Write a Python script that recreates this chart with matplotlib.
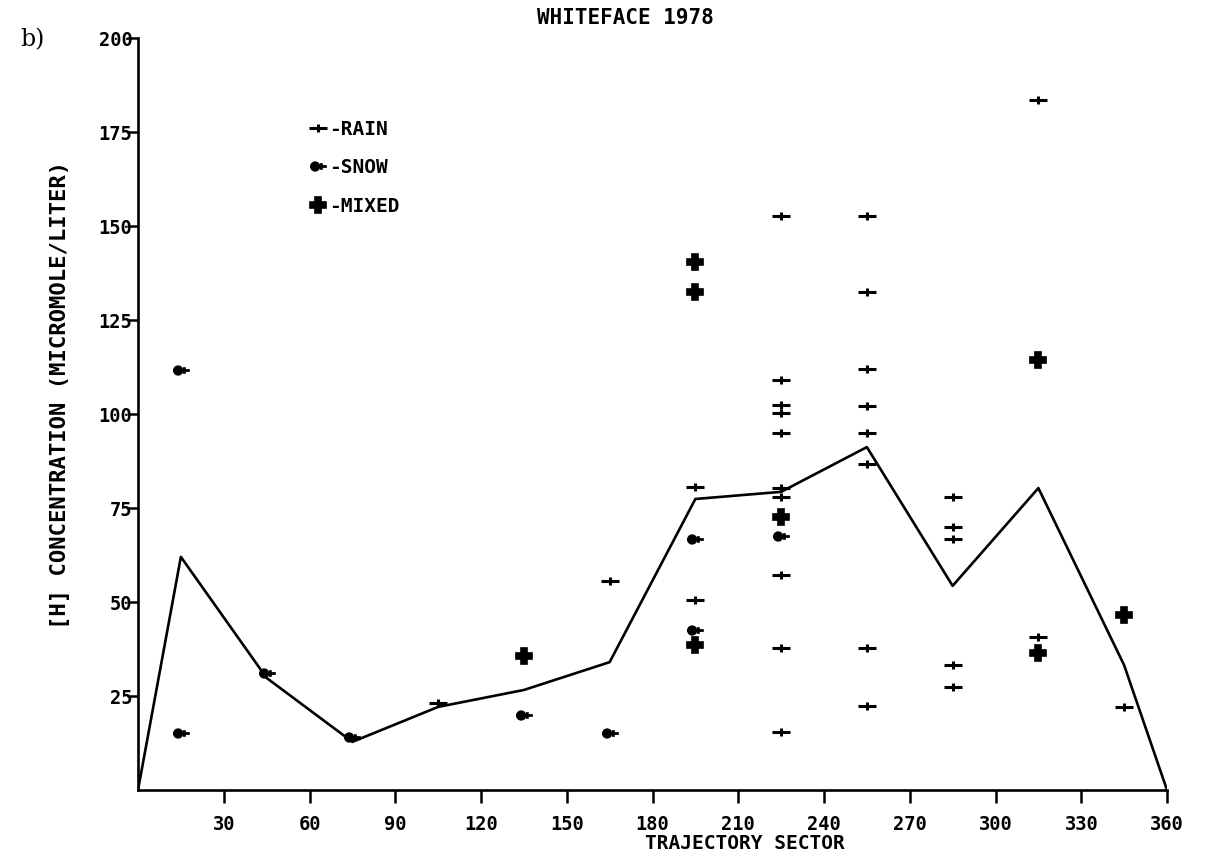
import matplotlib
matplotlib.use("Agg")
import matplotlib.pyplot as plt
from matplotlib.path import Path
from matplotlib.lines import Line2D

# ---- data ----
line_x = [0, 15, 45, 75, 105, 135, 165, 195, 225, 255, 285, 315, 345, 360]
line_y = [0, 62.0, 29.8, 12.8, 22.1, 26.6, 34.0, 77.4, 79.3, 91.2, 54.3, 80.3, 33.2, 0]

rain_x = [105, 165, 195, 195,
          225, 225, 225, 225, 225, 225, 225, 225, 225, 225,
          255, 255, 255, 255, 255, 255, 255, 255,
          285, 285, 285, 285, 285,
          315, 315, 345]
rain_y = [23.1, 55.6, 80.6, 50.5,
          152.7, 109.0, 102.4, 100.3, 95.0, 80.3, 77.9, 57.2, 37.8, 15.4,
          152.7, 132.4, 112.0, 102.1, 95.0, 86.7, 37.8, 22.3,
          77.9, 69.9, 66.8, 33.2, 27.4,
          183.5, 40.7, 22.1]

snow_x = [15, 15, 45, 75, 135, 165, 195, 195, 225]
snow_y = [111.7, 15.2, 31.1, 14.1, 19.9, 15.2, 66.8, 42.6, 67.6]

mixed_x = [135, 195, 195, 195, 225, 315, 315, 345]
mixed_y = [35.6, 140.4, 132.4, 38.6, 72.6, 114.4, 36.4, 46.5]

x_ticks = [30, 60, 90, 120, 150, 180, 210, 240, 270, 300, 330, 360]
y_ticks = [25, 50, 75, 100, 125, 150, 175, 200]

title = "WHITEFACE 1978"
x_label = "TRAJECTORY SECTOR"
y_label = "[H] CONCENTRATION (MICROMOLE/LITER)"
legend_labels = ["-RAIN", "-SNOW", "-MIXED"]

# ---- marker shapes ----
rain_marker = Path([(-1, 0), (1, 0), (0, -0.45), (0, 0.45)],
                   [Path.MOVETO, Path.LINETO, Path.MOVETO, Path.LINETO])
circ = Path.circle(center=(-0.4, 0), radius=0.45)
bar = Path([(-1, 0), (1, 0), (0.35, -0.4), (0.35, 0.4)],
           [Path.MOVETO, Path.LINETO, Path.MOVETO, Path.LINETO])
snow_marker = Path.make_compound_path(circ, bar)

font = "DejaVu Sans Mono"
plt.rcParams["font.family"] = [font, "DejaVu Sans"]

fig = plt.figure(figsize=(12.11, 8.57), dpi=100)
ax = fig.add_axes([138 / 1211, 1 - 790 / 857, (1167 - 138) / 1211, (790 - 38) / 857])

ax.plot(line_x, line_y, color="black", lw=1.9, zorder=2)
ax.plot(rain_x, rain_y, ls="none", marker=rain_marker, ms=13, mew=2.2,
        color="black", zorder=3)
ax.plot(snow_x, snow_y, ls="none", marker=snow_marker, ms=12, mew=2.0,
        mfc="black", mec="black", zorder=3)
ax.plot(mixed_x, mixed_y, ls="none", marker="P", ms=12, mew=1.2,
        mfc="black", mec="black", zorder=3)

ax.set_xlim(0, 360)
ax.set_ylim(0, 200)
ax.set_xticks(x_ticks)
ax.set_yticks(y_ticks)
ax.set_xticklabels([str(v) for v in x_ticks], fontsize=13.5, fontweight="bold")
ax.set_yticklabels([str(v) for v in y_ticks], fontsize=13.5, fontweight="bold")
ax.tick_params(axis="x", direction="out", length=9, width=1.8, pad=9)
ax.tick_params(axis="y", direction="out", length=8, width=1.8, pad=-4)
for s in ["top", "right"]:
    ax.spines[s].set_visible(False)
for s in ["left", "bottom"]:
    ax.spines[s].set_linewidth(1.9)

ax.set_xlabel(x_label, fontsize=14, fontweight="bold")
ax.xaxis.set_label_coords(0.59, -0.058)
ax.set_ylabel(y_label, fontsize=16, fontweight="bold")
ax.yaxis.set_label_coords(-0.066, 0.525)

fig.text(625 / 1211, 1 - 18 / 857, title, ha="center", va="center",
         fontsize=15, fontweight="bold")
fig.text(20 / 1211, 1 - 40 / 857, "b)", ha="left", va="center",
         fontsize=17, family="DejaVu Serif")

handles = [
    Line2D([], [], ls="none", marker=rain_marker, ms=13, mew=2.2, color="black"),
    Line2D([], [], ls="none", marker=snow_marker, ms=12, mew=2.0, mfc="black", mec="black"),
    Line2D([], [], ls="none", marker="P", ms=12, mew=1.2, mfc="black", mec="black"),
]
leg = ax.legend(handles, legend_labels, loc="upper left",
                bbox_to_anchor=((300 - 138) / 1029, (790 - 110) / 752),
                frameon=False, handlelength=0.9, handletextpad=0.1,
                labelspacing=1.0, borderpad=0,
                prop={"family": font, "weight": "bold", "size": 14})

fig.savefig("out.png", dpi=100)
